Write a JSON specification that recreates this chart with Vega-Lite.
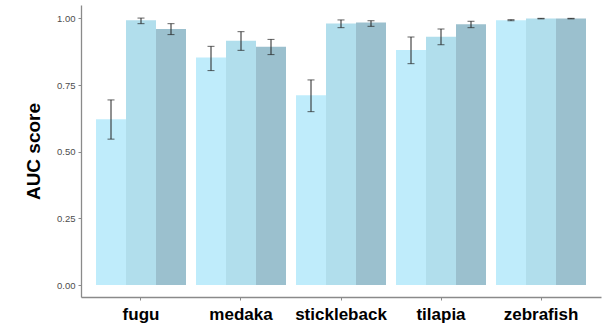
{
  "$schema": "https://vega.github.io/schema/vega-lite/v6.json",
  "width": 520,
  "height": 292,
  "autosize": "none",
  "padding": {"left": 81, "top": 5, "right": 10, "bottom": 32},
  "background": "white",
  "config": {"view": {"stroke": null}, "font": "Liberation Sans"},
  "data": {"values": [
    {"species": "fugu", "model": "A", "auc": 0.622, "lo": 0.547, "hi": 0.694},
    {"species": "fugu", "model": "B", "auc": 0.993, "lo": 0.980, "hi": 1.001},
    {"species": "fugu", "model": "C", "auc": 0.960, "lo": 0.939, "hi": 0.980},
    {"species": "medaka", "model": "A", "auc": 0.853, "lo": 0.804, "hi": 0.895},
    {"species": "medaka", "model": "B", "auc": 0.916, "lo": 0.880, "hi": 0.950},
    {"species": "medaka", "model": "C", "auc": 0.893, "lo": 0.864, "hi": 0.921},
    {"species": "stickleback", "model": "A", "auc": 0.712, "lo": 0.650, "hi": 0.769},
    {"species": "stickleback", "model": "B", "auc": 0.981, "lo": 0.965, "hi": 0.994},
    {"species": "stickleback", "model": "C", "auc": 0.984, "lo": 0.970, "hi": 0.991},
    {"species": "tilapia", "model": "A", "auc": 0.881, "lo": 0.830, "hi": 0.930},
    {"species": "tilapia", "model": "B", "auc": 0.931, "lo": 0.901, "hi": 0.960},
    {"species": "tilapia", "model": "C", "auc": 0.978, "lo": 0.965, "hi": 0.989},
    {"species": "zebrafish", "model": "A", "auc": 0.993, "lo": 0.991, "hi": 0.995},
    {"species": "zebrafish", "model": "B", "auc": 0.999, "lo": 0.998, "hi": 1.000},
    {"species": "zebrafish", "model": "C", "auc": 0.999, "lo": 0.998, "hi": 1.000}
  ]},
  "encoding": {
    "x": {"field": "species", "type": "nominal",
      "scale": {"type": "band", "paddingInner": 0.1, "paddingOuter": 0.15},
      "axis": {"title": null, "labelAngle": 0, "labelFontSize": 17, "labelFontWeight": "bold", "labelColor": "black", "labelPadding": 6,
        "domainColor": "#8a8a8a", "domainWidth": 1.3, "tickColor": "#8a8a8a", "tickSize": 3, "ticks": true, "grid": false}},
    "xOffset": {"field": "model", "type": "nominal", "scale": {"paddingInner": 0, "paddingOuter": 0}}
  },
  "layer": [
    {
      "mark": {"type": "bar"},
      "encoding": {
        "y": {"field": "auc", "type": "quantitative",
          "scale": {"domain": [-0.045, 1.05], "nice": false, "zero": false},
          "axis": {"title": "AUC score", "titleFontSize": 19, "titleFontWeight": "bold", "titleColor": "black", "titlePadding": 13,
            "values": [0, 0.25, 0.5, 0.75, 1], "format": ".2f", "labelFontSize": 9.5, "labelColor": "#4d4d4d",
            "domainColor": "#8a8a8a", "domainWidth": 1.3, "tickColor": "#8a8a8a", "tickSize": 3, "grid": false, "labelPadding": 3}},
        "y2": {"datum": 0},
        "color": {"field": "model", "type": "nominal", "legend": null,
          "scale": {"domain": ["A", "B", "C"], "range": ["#bfecfb", "#b1deec", "#9bc0ce"]}}
      }
    },
    {
      "mark": {"type": "rule", "color": "#222222", "strokeWidth": 1},
      "encoding": {
        "y": {"field": "lo", "type": "quantitative"},
        "y2": {"field": "hi"}
      }
    },
    {
      "mark": {"type": "tick", "color": "#222222", "thickness": 1, "size": 7, "orient": "horizontal"},
      "encoding": {"y": {"field": "lo", "type": "quantitative"}}
    },
    {
      "mark": {"type": "tick", "color": "#222222", "thickness": 1, "size": 7, "orient": "horizontal"},
      "encoding": {"y": {"field": "hi", "type": "quantitative"}}
    }
  ]
}
